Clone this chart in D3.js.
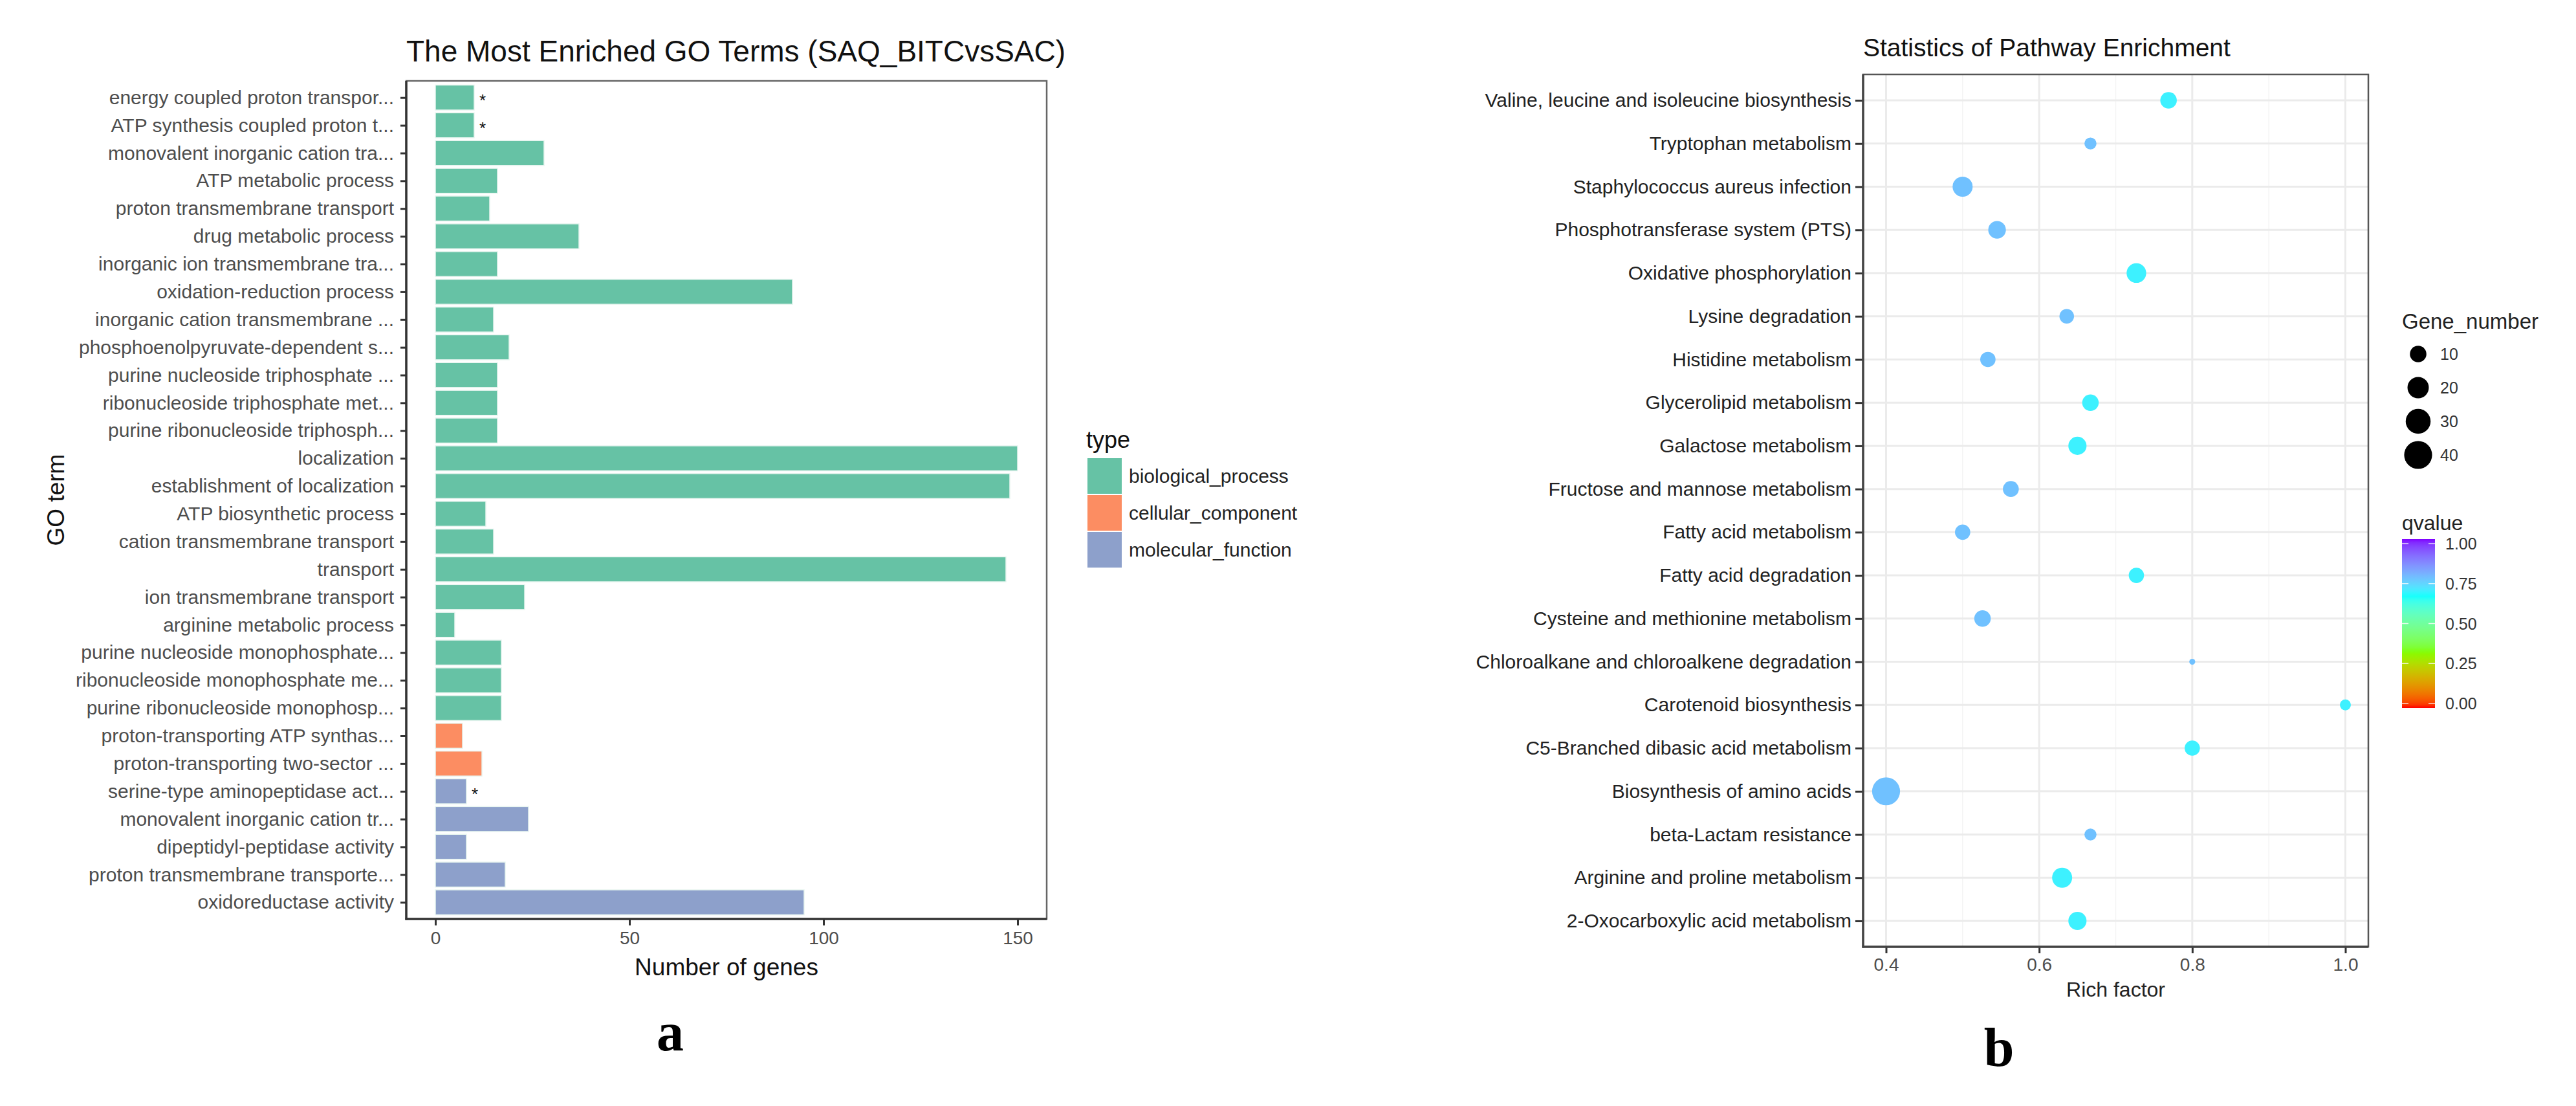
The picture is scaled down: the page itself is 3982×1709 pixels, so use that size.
<!DOCTYPE html>
<html><head><meta charset="utf-8">
<script src="https://cdn.jsdelivr.net/npm/d3@7/dist/d3.min.js"></script>
<style>
html,body{margin:0;padding:0;background:#fff;}
text{font-family:"Liberation Sans",Arial,Helvetica,sans-serif;}
text.panel-tag{font-family:"Liberation Serif","Times New Roman",serif;font-weight:bold;}
</style></head>
<body>
<svg id="chart" width="3982" height="1709"></svg>
<script>
// ---------- Panel a data ----------
const goTerms = [
  "energy coupled proton transpor...","ATP synthesis coupled proton t...","monovalent inorganic cation tra...",
  "ATP metabolic process","proton transmembrane transport","drug metabolic process",
  "inorganic ion transmembrane tra...","oxidation-reduction process","inorganic cation transmembrane ...",
  "phosphoenolpyruvate-dependent s...","purine nucleoside triphosphate ...","ribonucleoside triphosphate met...",
  "purine ribonucleoside triphosph...","localization","establishment of localization",
  "ATP biosynthetic process","cation transmembrane transport","transport",
  "ion transmembrane transport","arginine metabolic process","purine nucleoside monophosphate...",
  "ribonucleoside monophosphate me...","purine ribonucleoside monophosp...","proton-transporting ATP synthas...",
  "proton-transporting two-sector ...","serine-type aminopeptidase act...","monovalent inorganic cation tr...",
  "dipeptidyl-peptidase activity","proton transmembrane transporte...","oxidoreductase activity"
];
const goCounts = [10,10,28,16,14,37,16,92,15,19,16,16,16,150,148,13,15,147,23,5,17,17,17,7,12,8,24,8,18,95];
const goTypes = ["BP","BP","BP","BP","BP","BP","BP","BP","BP","BP","BP","BP","BP","BP","BP","BP","BP","BP","BP","BP","BP","BP","BP","CC","CC","MF","MF","MF","MF","MF"];
const goSignificant = [true,true,false,false,false,false,false,false,false,false,false,false,false,false,false,false,false,false,false,false,false,false,false,false,false,true,false,false,false,false];
const typeKeys = ["BP","CC","MF"];
const typeLabels = ["biological_process","cellular_component","molecular_function"];
const typeColors = ["#66C2A5","#FC8D62","#8DA0CB"];
const goTicks = [0,50,100,150];

// ---------- Panel b data ----------
const pathways = [
  "Valine, leucine and isoleucine biosynthesis","Tryptophan metabolism","Staphylococcus aureus infection",
  "Phosphotransferase system (PTS)","Oxidative phosphorylation","Lysine degradation","Histidine metabolism",
  "Glycerolipid metabolism","Galactose metabolism","Fructose and mannose metabolism","Fatty acid metabolism",
  "Fatty acid degradation","Cysteine and methionine metabolism","Chloroalkane and chloroalkene degradation",
  "Carotenoid biosynthesis","C5-Branched dibasic acid metabolism","Biosynthesis of amino acids",
  "beta-Lactam resistance","Arginine and proline metabolism","2-Oxocarboxylic acid metabolism"
];
const richFactor = [0.769,0.667,0.500,0.545,0.727,0.636,0.533,0.667,0.650,0.563,0.500,0.727,0.526,0.800,1.000,0.800,0.400,0.667,0.630,0.650];
const geneNumber = [10,4,17,12,16,7,8,10,13,9,8,8,10,1,3,8,40,4,17,13];
const qvalue = [0.69,0.77,0.77,0.77,0.69,0.77,0.77,0.69,0.69,0.77,0.77,0.69,0.77,0.77,0.69,0.69,0.77,0.77,0.69,0.69];
const richTicks = [0.4,0.6,0.8,1.0];
const richMinor = [0.5,0.7,0.9];
const sizeBreaks = [10,20,30,40];
const qBreaks = [0,0.25,0.5,0.75,1];
const rainbow4 = ["#FF0000","#80FF00","#00FFFF","#8000FF"];

const svg = d3.select("#chart");

// ================= Panel a =================
const A = {l:628, r:1618, t:125, b:1420};
const xA = d3.scaleLinear().domain([-7.5,157.5]).range([A.l,A.r]);
const yA = d3.scalePoint().domain(goTerms).range([A.t,A.b]).padding(0.6);
const colA = d3.scaleOrdinal().domain(typeKeys).range(typeColors);
const barH = yA.step()*0.9;
const gA = svg.append("g");

gA.append("text").attr("x",A.l).attr("y",79).attr("dominant-baseline","central")
  .attr("font-size",46).attr("fill","#111").text("The Most Enriched GO Terms (SAQ_BITCvsSAC)");

gA.append("rect").attr("x",A.l).attr("y",A.t).attr("width",A.r-A.l).attr("height",A.b-A.t)
  .attr("fill","#fff").attr("stroke","#666").attr("stroke-width",2.5);

const goData = goTerms.map((t,i)=>({term:t,count:goCounts[i],type:goTypes[i],sig:goSignificant[i]}));
gA.selectAll("rect.bar").data(goData).join("rect").attr("class","bar")
  .attr("x",xA(0)).attr("y",d=>yA(d.term)-barH/2)
  .attr("width",d=>xA(d.count)-xA(0)).attr("height",barH)
  .attr("fill",d=>colA(d.type)).attr("stroke","#e8f5f0").attr("stroke-width",1.5);

gA.selectAll("text.star").data(goData.filter(d=>d.sig)).join("text").attr("class","star")
  .attr("x",d=>xA(d.count)+8).attr("y",d=>yA(d.term)+4).attr("font-size",26).attr("fill","#111")
  .attr("dominant-baseline","central").text("*");

const axLA = gA.append("g").attr("transform",`translate(${A.l},0)`)
  .call(d3.axisLeft(yA).tickSize(9).tickPadding(10));
axLA.select(".domain").remove();
axLA.selectAll("line").attr("stroke","#333").attr("stroke-width",3);
axLA.selectAll("text").attr("font-size",30).attr("fill","#4d4d4d");

const axBA = gA.append("g").attr("transform",`translate(0,${A.b})`)
  .call(d3.axisBottom(xA).tickValues(goTicks).tickSize(10).tickPadding(9));
axBA.select(".domain").remove();
axBA.selectAll("line").attr("stroke","#333").attr("stroke-width",3);
axBA.selectAll("text").attr("font-size",28).attr("fill","#4d4d4d");

gA.append("line").attr("x1",A.l).attr("x2",A.l).attr("y1",A.t).attr("y2",A.b+1.5).attr("stroke","#333").attr("stroke-width",3.5);
gA.append("line").attr("x1",A.l-1.5).attr("x2",A.r).attr("y1",A.b).attr("y2",A.b).attr("stroke","#333").attr("stroke-width",3.5);

gA.append("text").attr("x",(A.l+A.r)/2).attr("y",1494).attr("text-anchor","middle").attr("dominant-baseline","central")
  .attr("font-size",37).attr("fill","#111").text("Number of genes");
gA.append("text").attr("transform",`translate(86,${(A.t+A.b)/2}) rotate(-90)`).attr("text-anchor","middle")
  .attr("dominant-baseline","central").attr("font-size",37).attr("fill","#111").text("GO term");

// legend a
const legA = gA.append("g");
legA.append("text").attr("x",1679).attr("y",679).attr("dominant-baseline","central").attr("font-size",36).attr("fill","#111").text("type");
const legY = d3.scaleBand().domain(typeKeys).range([707,878]);
legA.selectAll("rect").data(typeKeys).join("rect")
  .attr("x",1680).attr("y",d=>legY(d)).attr("width",55).attr("height",legY.bandwidth())
  .attr("fill",d=>colA(d)).attr("stroke","#fff").attr("stroke-width",2);
legA.selectAll("text.lab").data(typeKeys).join("text").attr("class","lab")
  .attr("x",1745).attr("y",d=>legY(d)+legY.bandwidth()/2).attr("dominant-baseline","central")
  .attr("font-size",30).attr("fill","#222").text((d,i)=>typeLabels[i]);

svg.append("text").attr("class","panel-tag").attr("x",1036).attr("y",1623).attr("text-anchor","middle")
  .attr("font-size",84).attr("fill","#000").text("a");

// ================= Panel b =================
const B = {l:2880, r:3661, t:115, b:1463};
const xB = d3.scaleLinear().domain([0.37,1.03]).range([B.l,B.r]);
const yB = d3.scalePoint().domain(pathways).range([B.t,B.b]).padding(0.6);
const rB = d3.scaleSqrt().domain([0,39]).range([4.6,21.6]);
const colB = d3.scaleLinear().domain([0,1/3,2/3,1]).range(rainbow4).interpolate(d3.interpolateLab);
const gB = svg.append("g");

gB.append("text").attr("x",B.l).attr("y",73).attr("dominant-baseline","central")
  .attr("font-size",39).attr("fill","#111").text("Statistics of Pathway Enrichment");

gB.append("rect").attr("x",B.l).attr("y",B.t).attr("width",B.r-B.l).attr("height",B.b-B.t).attr("fill","#fff");
gB.selectAll("line.minor").data(richMinor).join("line").attr("class","minor")
  .attr("x1",d=>xB(d)).attr("x2",d=>xB(d)).attr("y1",B.t).attr("y2",B.b).attr("stroke","#f4f4f4").attr("stroke-width",1.5);
gB.selectAll("line.vmaj").data(richTicks).join("line").attr("class","vmaj")
  .attr("x1",d=>xB(d)).attr("x2",d=>xB(d)).attr("y1",B.t).attr("y2",B.b).attr("stroke","#ebebeb").attr("stroke-width",3);
gB.selectAll("line.hmaj").data(pathways).join("line").attr("class","hmaj")
  .attr("x1",B.l).attr("x2",B.r).attr("y1",d=>yB(d)).attr("y2",d=>yB(d)).attr("stroke","#ebebeb").attr("stroke-width",3);
gB.append("rect").attr("x",B.l).attr("y",B.t).attr("width",B.r-B.l).attr("height",B.b-B.t)
  .attr("fill","none").attr("stroke","#555").attr("stroke-width",2.5);

const pData = pathways.map((p,i)=>({p,rf:richFactor[i],g:geneNumber[i],q:qvalue[i]}));
gB.selectAll("circle.pt").data(pData).join("circle").attr("class","pt")
  .attr("cx",d=>xB(d.rf)).attr("cy",d=>yB(d.p)).attr("r",d=>rB(d.g-1)).attr("fill",d=>colB(d.q));

const axLB = gB.append("g").attr("transform",`translate(${B.l},0)`)
  .call(d3.axisLeft(yB).tickSize(12).tickPadding(6));
axLB.select(".domain").remove();
axLB.selectAll("line").attr("stroke","#333").attr("stroke-width",3);
axLB.selectAll("text").attr("font-size",30).attr("fill","#222");

const axBB = gB.append("g").attr("transform",`translate(0,${B.b})`)
  .call(d3.axisBottom(xB).tickValues(richTicks).tickFormat(d3.format(".1f")).tickSize(10).tickPadding(7));
axBB.select(".domain").remove();
axBB.selectAll("line").attr("stroke","#333").attr("stroke-width",3);
axBB.selectAll("text").attr("font-size",28).attr("fill","#4d4d4d");

gB.append("line").attr("x1",B.l).attr("x2",B.l).attr("y1",B.t).attr("y2",B.b+1.5).attr("stroke","#444").attr("stroke-width",3.5);
gB.append("line").attr("x1",B.l-1.5).attr("x2",B.r).attr("y1",B.b).attr("y2",B.b).attr("stroke","#444").attr("stroke-width",3.5);

gB.append("text").attr("x",(B.l+B.r)/2).attr("y",1529).attr("text-anchor","middle").attr("dominant-baseline","central")
  .attr("font-size",32).attr("fill","#222").text("Rich factor");

// size legend
const legS = gB.append("g");
legS.append("text").attr("x",3713).attr("y",496).attr("dominant-baseline","central").attr("font-size",33).attr("fill","#222").text("Gene_number");
const sY = d3.scalePoint().domain(sizeBreaks).range([547,703]);
legS.selectAll("circle").data(sizeBreaks).join("circle")
  .attr("cx",3738).attr("cy",d=>sY(d)).attr("r",d=>rB(d-1)).attr("fill","#000");
legS.selectAll("text.lab").data(sizeBreaks).join("text").attr("class","lab")
  .attr("x",3772).attr("y",d=>sY(d)).attr("dominant-baseline","central").attr("font-size",25).attr("fill","#333").text(d=>d);

// colour bar legend
const legC = gB.append("g");
legC.append("text").attr("x",3713).attr("y",808).attr("dominant-baseline","central").attr("font-size",32).attr("fill","#222").text("qvalue");
const cbTop = 833, cbBot = 1094, cbX = 3713, cbW = 51;
const qY = d3.scaleLinear().domain([0,1]).range([cbBot-7,cbTop+7]);
const defs = svg.append("defs");
const grad = defs.append("linearGradient").attr("id","qgrad").attr("x1",0).attr("y1",1).attr("x2",0).attr("y2",0);
d3.range(0,1.0001,0.02).forEach(t=>grad.append("stop").attr("offset",t).attr("stop-color",colB(t)));
legC.append("rect").attr("x",cbX).attr("y",cbTop).attr("width",cbW).attr("height",cbBot-cbTop).attr("fill","url(#qgrad)");
legC.selectAll("line.tl").data(qBreaks).join("line").attr("class","tl")
  .attr("x1",cbX).attr("x2",cbX+10).attr("y1",d=>qY(d)).attr("y2",d=>qY(d)).attr("stroke","#fff").attr("stroke-width",1.5).attr("opacity",0.8);
legC.selectAll("line.tr").data(qBreaks).join("line").attr("class","tr")
  .attr("x1",cbX+cbW-10).attr("x2",cbX+cbW).attr("y1",d=>qY(d)).attr("y2",d=>qY(d)).attr("stroke","#fff").attr("stroke-width",1.5).attr("opacity",0.8);
legC.selectAll("text.lab").data(qBreaks).join("text").attr("class","lab")
  .attr("x",3780).attr("y",d=>qY(d)).attr("dominant-baseline","central").attr("font-size",25).attr("fill","#333")
  .text(d=>d3.format(".2f")(d));

svg.append("text").attr("class","panel-tag").attr("x",3090).attr("y",1647).attr("text-anchor","middle")
  .attr("font-size",84).attr("fill","#000").text("b");
</script>
</body></html>
